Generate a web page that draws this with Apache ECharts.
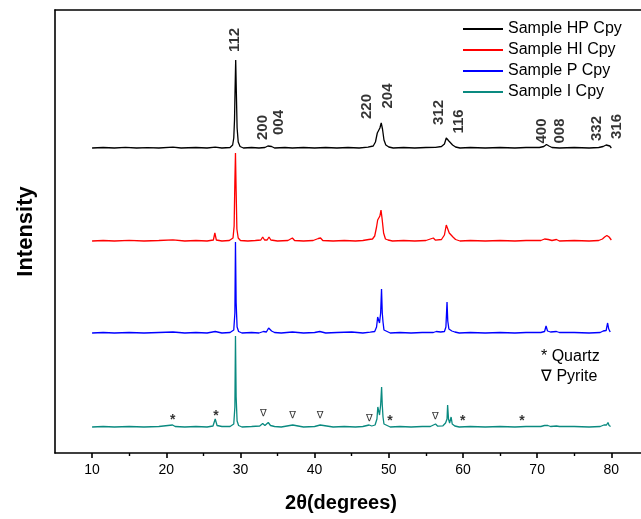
<!DOCTYPE html>
<html><head><meta charset="utf-8">
<script src="https://cdn.jsdelivr.net/npm/echarts@6/dist/echarts.min.js"></script>
<style>html,body{margin:0;padding:0;background:#fff}#c{width:641px;height:519px}</style>
</head><body><div id="c"></div>
<script>
// ---- data (2θ in degrees, intensity in arbitrary units above each pattern's baseline) ----
const seriesNames = ['Sample HP Cpy', 'Sample HI Cpy', 'Sample P Cpy', 'Sample I Cpy'];
const seriesColors = ['#000000', '#ff0000', '#0000ff', '#0a8a80'];
const baselineOffsets = [305, 212, 120, 26];

const hpPattern = [[10,0],[11.5,0.5],[13,0],[14.5,0.6],[16,0],[17.5,0.4],[19,0],[20.9,0.8],[22,0],[24,0.5],[25.5,0],[26.6,0.8],[27.5,0],[28.6,0.5],[28.95,3],[29.1,10],[29.2,28],[29.28,60],[29.36,88],[29.45,55],[29.55,20],[29.7,6],[29.95,1.5],[30.4,0],[31.5,0.5],[32.5,0],[33.3,0.5],[33.7,2],[33.95,4],[34.2,1.5],[34.6,0],[36,0.5],[37,0],[38.5,0.5],[40,0],[41.5,0.5],[43,0],[44.5,0.5],[46,0],[47.2,0.8],[47.9,2],[48.2,6],[48.45,15],[48.65,17],[48.8,20],[48.98,25],[49.15,19],[49.35,8],[49.6,3],[50,1],[50.6,0],[52,0.5],[53.5,0],[55,0.5],[56.3,0.6],[57.1,1.5],[57.5,4],[57.75,10],[57.9,11],[58.1,7],[58.35,6],[58.6,3],[59,1],[59.6,0],[61,0.5],[63,0],[65,0.5],[67,0],[68.5,0.5],[70.3,0.5],[70.9,1.5],[71.25,3.5],[71.6,2],[72,0.5],[73,0],[75,0.5],[77,0],[78.3,0.5],[78.9,1.5],[79.3,3],[79.55,4],[79.8,2],[80,0]];
const hiPattern = [[10,0],[11.5,0.5],[13,0],[15,0.6],[17,0],[19,0.5],[20.9,1.2],[22.5,0],[24,0.5],[25.5,0],[26.35,1],[26.55,8],[26.75,1],[27.5,0],[28.5,0.5],[29.0,3],[29.15,15],[29.25,60],[29.33,88],[29.42,50],[29.52,12],[29.7,3],[30,0.5],[31,0],[32,0.5],[32.75,1],[33.0,4],[33.25,1],[33.6,1],[33.85,4],[34.1,1],[35,0],[36.4,0.5],[37.0,3],[37.3,0.5],[38.5,0],[39.8,0.5],[40.5,2.5],[40.8,3],[41.1,0.5],[42.5,0],[44,0.5],[45.5,0],[46.5,0.5],[47.3,1.5],[47.8,2],[48.1,5],[48.35,14],[48.5,21],[48.65,19],[48.8,25],[48.95,31],[49.1,22],[49.3,8],[49.55,2],[49.9,1],[50.5,0],[52,0.5],[53.5,0],[55,0.5],[56.0,3],[56.3,0.8],[57.1,1.5],[57.5,6],[57.75,16],[57.9,13],[58.15,8],[58.4,10],[58.65,4],[59,1.5],[59.6,0],[61,0.5],[63,0],[65,0.5],[67,0],[68.5,0.5],[70.5,0.5],[71.0,2],[71.25,3],[71.5,1.5],[72,0.5],[72.6,1.5],[73,0],[75,0.5],[77,0],[78.3,0.5],[78.8,2],[79.1,4],[79.4,5.5],[79.7,4],[80,1]];
const pPattern = [[10,0],[11.5,0.5],[13,0],[15,0.5],[17,0],[19,0.5],[20.9,1],[22.5,0],[24,0.5],[25.5,0],[26.6,1.5],[27.5,0],[28.6,0.5],[29.1,3],[29.25,20],[29.33,91],[29.42,30],[29.55,6],[29.75,1.5],[30.2,0],[31.5,0.5],[32.5,0],[33.1,1.5],[33.5,1],[33.8,5],[34.0,6],[34.2,2],[34.6,0.5],[35.5,0],[37,1],[38.5,0],[40,0.5],[40.7,1.5],[41.5,0],[43,0.5],[45,1],[46.5,0],[47.5,0.8],[48.1,1.5],[48.35,6],[48.5,16],[48.62,14],[48.75,10],[48.9,20],[49.02,44],[49.12,20],[49.22,11],[49.35,3],[49.6,1],[50.2,0],[51.5,0.5],[53,0],[54.5,0.5],[56,0.5],[56.4,1.5],[57.0,1],[57.5,1.5],[57.7,6],[57.85,31],[57.95,12],[58.1,4],[58.35,5],[58.5,2],[58.9,1],[59.5,0],[61,0.5],[63,0],[65,0.5],[67,0],[68.5,0.5],[70.5,0.5],[71.0,1.5],[71.2,7],[71.4,2],[71.8,1],[72.6,1.5],[73,0.5],[75,0.5],[77,0],[78.5,0.5],[78.9,2],[79.1,4],[79.3,2.5],[79.5,10],[79.65,4],[79.85,1]];
const iPattern = [[10,0],[11.5,0.5],[13,0],[15,0.5],[17,0],[19,0.5],[20.85,2],[21.2,0.5],[22.5,0],[24,0.5],[25.5,0],[26.3,1],[26.6,8],[26.85,1.5],[27.5,0.5],[28.6,0.5],[29.1,3],[29.25,20],[29.33,91],[29.42,30],[29.55,6],[29.75,1.5],[30.2,0],[31.5,0.5],[32.6,1],[33.0,3.5],[33.3,1.5],[33.75,4.5],[34.05,1.5],[34.6,0.5],[35.5,0],[37.05,2],[37.3,0.5],[38.5,0],[40.0,0.5],[40.75,2],[41.0,0.5],[42.5,0],[44,0.5],[45.5,0],[46.5,0.5],[47.35,2],[47.7,1],[48.15,2],[48.4,8],[48.52,20],[48.62,18],[48.75,12],[48.9,22],[49.03,40],[49.12,22],[49.22,10],[49.35,3],[49.6,1],[50.2,0],[51.5,0.5],[53,0],[54.5,0.5],[55.6,0.5],[56.3,3],[56.6,0.8],[57.3,1.2],[57.65,4],[57.85,8],[57.93,22],[58.05,8],[58.2,4],[58.4,10],[58.55,3],[58.9,1],[59.5,0],[61,0.5],[63,0],[65,0.5],[67,0],[68.5,0.5],[70.5,0.5],[71.0,1.5],[71.25,3.5],[71.45,1.5],[71.8,0.5],[72.6,1],[73,0.5],[75,0.5],[77,0],[78.5,0.5],[79.0,2],[79.2,4],[79.35,2],[79.55,4.5],[79.7,1.5],[79.9,0.5]];
const patterns = [hpPattern, hiPattern, pPattern, iPattern];

// Miller-index peak labels: [2θ position, height on the intensity axis, text]
const peakLabels = [[29.18,413,'112'],[32.98,325.5,'200'],[35.24,330.5,'004'],[47.1,346.5,'220'],[49.93,357,'204'],[56.8,340.5,'312'],[59.5,331.5,'116'],[70.7,322,'400'],[73.0,322,'008'],[78.1,324.5,'332'],[80.7,326.5,'316']];
// impurity markers on the Sample I pattern
const quartzMarks = [[20.86,36.3],[26.71,40.3],[50.16,34.7],[59.95,34.7],[67.95,34.7]];
const pyriteMarks = [[33.09,39.7],[37.04,38],[40.73,38],[47.37,34.7],[56.27,37]];

const xTickValues = [10,20,30,40,50,60,70,80];
const xMinorTickValues = [15,25,35,45,55,65,75];

// ---- chart ----
const FONT = '"Liberation Sans", Arial, sans-serif';
const chart = echarts.init(document.getElementById('c'), null, {renderer:'canvas'});

const lineSeries = patterns.map((p, i) => ({
  name: seriesNames[i],
  type: 'line',
  data: p.map(d => [d[0], d[1] + baselineOffsets[i]]),
  symbol: 'none',
  showSymbol: false,
  lineStyle: {color: seriesColors[i], width: 1.3},
  itemStyle: {color: seriesColors[i]},
  animation: false,
  z: 3
}));

const option = {
  animation: false,
  grid: {left: 55, top: 10, right: 0, bottom: 66, show: false},
  xAxis: [{
    type: 'value', min: 5, max: 84,
    axisLine: {show: true, lineStyle: {color: '#000', width: 1.6}},
    axisTick: {show: true, inside: false, length: 5, customValues: xTickValues, lineStyle: {color: '#000', width: 1.6}},
    axisLabel: {show: true, customValues: xTickValues, color: '#000', fontSize: 14, fontFamily: FONT, margin: 10},
    splitLine: {show: false},
    name: '2θ(degrees)', nameLocation: 'middle', nameGap: 40,
    nameTextStyle: {color: '#000', fontSize: 20, fontWeight: 'bold', fontFamily: FONT, padding: [0, 14, 0, 0]}
  }, {
    type: 'value', min: 5, max: 84, position: 'bottom',
    axisLine: {show: false},
    axisTick: {show: true, inside: false, length: 3, customValues: xMinorTickValues, lineStyle: {color: '#000', width: 1.4}},
    axisLabel: {show: false},
    splitLine: {show: false}
  }, {
    type: 'value', min: 5, max: 84, position: 'top',
    axisLine: {show: true, lineStyle: {color: '#000', width: 1.6}},
    axisTick: {show: false}, axisLabel: {show: false}, splitLine: {show: false}
  }],
  yAxis: {
    type: 'value', min: 0, max: 443,
    axisLine: {show: true, lineStyle: {color: '#000', width: 1.6}},
    axisTick: {show: false}, axisLabel: {show: false}, splitLine: {show: false},
    name: 'Intensity', nameLocation: 'middle', nameGap: 18, nameRotate: 90,
    nameTextStyle: {color: '#000', fontSize: 22, fontWeight: 'bold', fontFamily: FONT}
  },
  legend: {
    data: seriesNames, orient: 'vertical', left: 463, top: 21, padding: 0,
    icon: 'path://M0,0 L40,0 L40,2 L0,2 Z',
    itemWidth: 40, itemHeight: 2, itemGap: 5,
    textStyle: {color: '#000', fontSize: 16, fontFamily: FONT, lineHeight: 16, height: 16}
  },
  graphic: [
    {type: 'text', left: 541, top: 349, style: {text: '* Quartz', fontSize: 16, fontFamily: FONT, fill: '#000'}},
    {type: 'text', left: 541, top: 369, style: {text: '∇ Pyrite', fontSize: 16, fontFamily: FONT, fill: '#000'}}
  ],
  series: lineSeries.concat([
    {
      type: 'scatter', name: 'peaks', symbolSize: 0, silent: true,
      data: peakLabels.map(d => ({value: [d[0], d[1]], label: {formatter: d[2]}})),
      label: {show: true, position: 'inside', rotate: 90, color: '#000', fontSize: 15, fontWeight: 'bold', fontFamily: FONT, align: 'center', verticalAlign: 'middle'},
      z: 5
    },
    {
      type: 'scatter', name: 'quartz', symbolSize: 0, silent: true,
      data: quartzMarks,
      label: {show: true, position: 'inside', formatter: '*', color: '#000', fontSize: 14, fontWeight: 'bold', fontFamily: FONT, offset: [0, 3]},
      z: 5
    },
    {
      type: 'scatter', name: 'pyrite', symbolSize: 0, silent: true,
      data: pyriteMarks,
      label: {show: true, position: 'inside', formatter: '∇', color: '#000', fontSize: 10, fontFamily: '"DejaVu Sans", sans-serif'},
      z: 5
    }
  ])
};
chart.setOption(option);
</script></body></html>
